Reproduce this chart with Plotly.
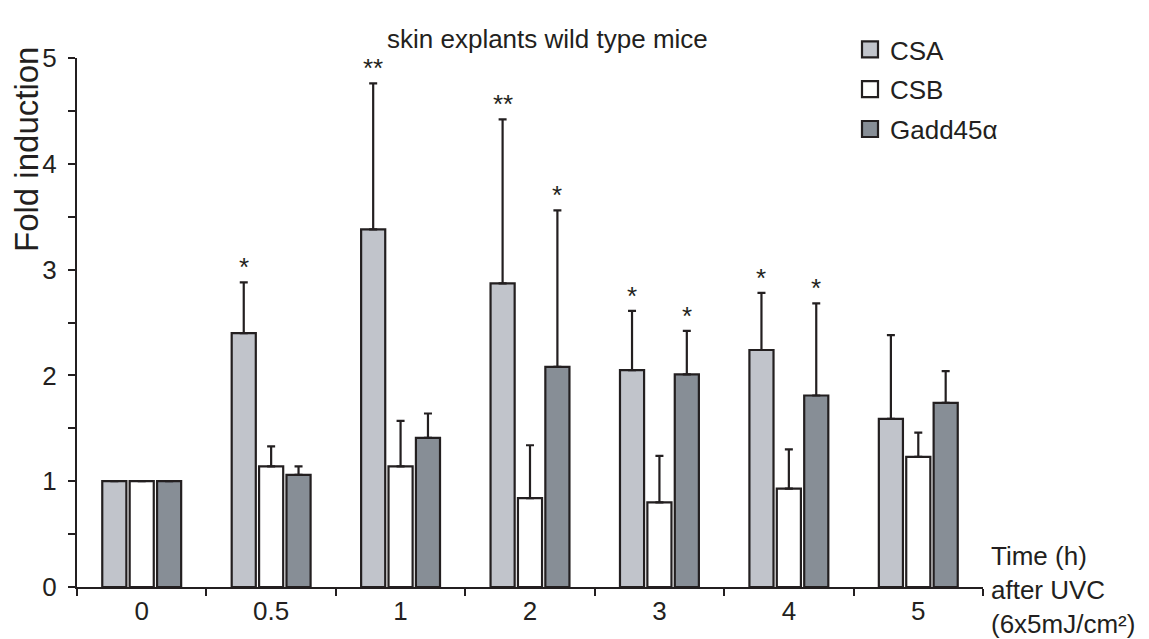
import plotly.graph_objects as go

categories = ["0", "0.5", "1", "2", "3", "4", "5"]
series_names = ["CSA", "CSB", "Gadd45α"]
csa = [1.0, 2.40, 3.38, 2.87, 2.05, 2.24, 1.59]
csb = [1.0, 1.14, 1.14, 0.84, 0.80, 0.93, 1.23]
gadd = [1.0, 1.06, 1.41, 2.08, 2.01, 1.81, 1.74]
csa_err = [0.0, 0.48, 1.38, 1.55, 0.56, 0.54, 0.79]
csb_err = [0.0, 0.19, 0.43, 0.50, 0.44, 0.37, 0.23]
gadd_err = [0.0, 0.08, 0.23, 1.48, 0.41, 0.87, 0.30]
csa_sig = ["", "*", "**", "**", "*", "*", ""]
csb_sig = ["", "", "", "", "", "", ""]
gadd_sig = ["", "", "", "*", "*", "*", ""]

colors = ["#c1c4cb", "#ffffff", "#878e96"]
dark = "#231f20"
FONT = "Liberation Sans, Arial, sans-serif"
FS = 26

values = [csa, csb, gadd]
errs = [csa_err, csb_err, gadd_err]
sigs = [csa_sig, csb_sig, gadd_sig]

W, H = 1149, 639
L, R, T, B = 77, 983, 58, 587
ml, mr, mt, mb = L, W - R, T, H - B
pw, ph = R - L, B - T


def px(xp):
    return (xp - ml) / pw


def py(yp):
    return (B - yp) / ph


fig = go.Figure()
for i, name in enumerate(series_names):
    fig.add_trace(go.Bar(
        x=categories, y=values[i], name=name, showlegend=False,
        marker=dict(color=colors[i], line=dict(color=dark, width=2.2)),
        error_y=dict(type="data", array=errs[i], arrayminus=[0] * len(categories),
                     symmetric=False, color=dark, thickness=2.2, width=4),
    ))
# legend entries (square swatches)
for i, name in enumerate(series_names):
    fig.add_trace(go.Scatter(
        x=[None], y=[None], mode="markers", name=name, legendgroup=name,
        marker=dict(symbol="square", size=16, color=colors[i],
                    line=dict(color=dark, width=2.2)),
    ))

# significance asterisks
bargap = 0.365
cat_w = pw / len(categories)
slot = cat_w * (1 - bargap) / 3
for i in range(3):
    shift = (i - 1) * slot
    for j in range(len(categories)):
        if sigs[i][j]:
            fig.add_annotation(x=j, y=values[i][j] + errs[i][j], text=sigs[i][j],
                               xref="x", yref="y", showarrow=False, xshift=shift,
                               yanchor="bottom", yshift=-2,
                               font=dict(family=FONT, size=FS, color=dark))

fig.add_annotation(x=px(547), y=py(22), xref="paper", yref="paper",
                   text="skin explants wild type mice", showarrow=False,
                   font=dict(family=FONT, size=FS, color=dark))
fig.add_annotation(x=px(26), y=py(150), xref="paper", yref="paper",
                   text="Fold induction", textangle=-90, showarrow=False,
                   xanchor="center", yanchor="middle",
                   font=dict(family=FONT, size=33, color=dark))
fig.add_annotation(x=px(989), y=py(590), xref="paper", yref="paper",
                   text="Time (h)<br>after UVC<br>(6x5mJ/cm²)", showarrow=False,
                   xanchor="left", yanchor="middle", align="left",
                   font=dict(family=FONT, size=FS, color=dark))

fig.update_layout(
    width=W, height=H,
    margin=dict(l=ml, r=mr, t=mt, b=mb, autoexpand=False),
    paper_bgcolor="white", plot_bgcolor="white",
    barmode="group", bargap=bargap, bargroupgap=0.12,
    font=dict(family=FONT, size=FS, color=dark),
    showlegend=True,
    legend=dict(x=px(850), y=py(26), xref="paper", yref="paper",
                xanchor="left", yanchor="top", tracegroupgap=3,
                font=dict(family=FONT, size=FS, color=dark),
                itemwidth=30, bgcolor="rgba(0,0,0,0)", traceorder="grouped"),
    xaxis=dict(type="category", showline=True, linecolor=dark, linewidth=2,
               ticks="outside", tickson="boundaries", ticklen=7, tickwidth=2,
               tickcolor=dark, showgrid=False, zeroline=False, automargin=False,
               tickfont=dict(family=FONT, size=FS, color=dark)),
    yaxis=dict(range=[0, 5], dtick=1, showline=True, linecolor=dark, linewidth=2,
               ticks="outside", ticklen=7, tickwidth=2, tickcolor=dark,
               showgrid=False, zeroline=False, automargin=False, ticklabelstandoff=6,
               minor=dict(dtick=0.5, ticks="outside", ticklen=7, tickwidth=2,
                          tickcolor=dark, showgrid=False),
               tickfont=dict(family=FONT, size=FS, color=dark)),
)

fig.write_html("out.html", config={"displayModeBar": False},
               post_script="document.body.style.margin='0';")
